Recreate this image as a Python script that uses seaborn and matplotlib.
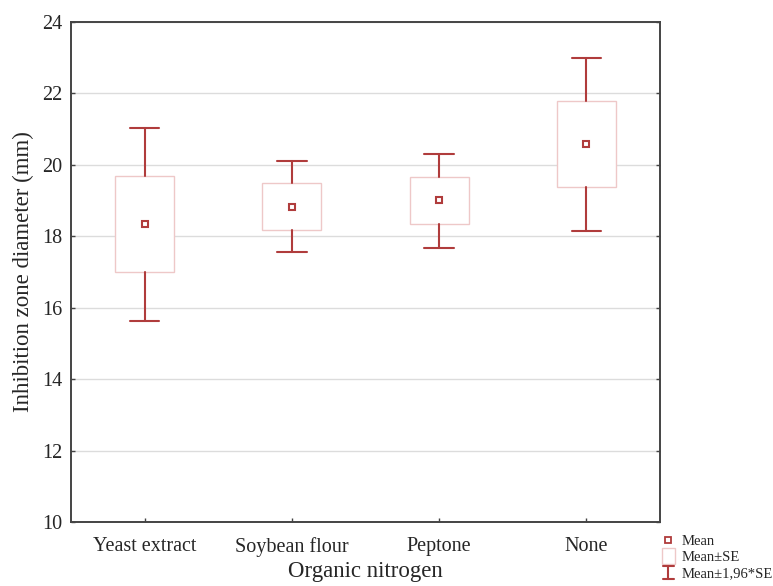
import matplotlib
matplotlib.use("Agg")
import matplotlib.pyplot as plt
import seaborn as sns
import numpy as np
import pandas as pd
from matplotlib.lines import Line2D
from matplotlib.patches import Rectangle
from matplotlib.legend_handler import HandlerBase

categories = ["Yeast extract", "Soybean flour", "Peptone", "None"]
means = [18.34, 18.82, 19.02, 20.58]
se_low = [17.00, 18.18, 18.34, 19.38]
se_high = [19.69, 19.49, 19.66, 21.79]
ci_low = [15.63, 17.56, 17.67, 18.15]
ci_high = [21.03, 20.11, 20.30, 22.99]
yticks = [10, 12, 14, 16, 18, 20, 22, 24]

dark = "#b03c3c"
pink = "#eec8c8"

sns.set_theme(style="white")
plt.rcParams["font.family"] = ["Liberation Serif", "DejaVu Serif"]

fig = plt.figure(figsize=(7.73, 5.86), dpi=100)
ax = fig.add_axes([71/773, 1-522/586, (660-71)/773, 500/586])

df = pd.DataFrame({"cat": categories, "mean": means})
sns.pointplot(data=df, x="cat", y="mean", linestyle="none", marker="s",
              markersize=5, markerfacecolor="white", markeredgecolor=dark,
              markeredgewidth=1.5, color=dark, errorbar=None, ax=ax, zorder=5)

xs = np.arange(len(categories))
lo = np.array(se_low)
hi = np.array(se_high)
ax.bar(xs, hi - lo, bottom=lo, width=0.4, color="white", edgecolor=pink,
       linewidth=1.0, zorder=3)
for x, l, h, cl, ch in zip(xs, lo, hi, ci_low, ci_high):
    ax.plot([x, x], [h, ch], color=dark, lw=1.5, zorder=4)
    ax.plot([x, x], [cl, l], color=dark, lw=1.5, zorder=4)
    ax.plot([x - 0.1, x + 0.1], [ch, ch], color=dark, lw=1.5, zorder=4)
    ax.plot([x - 0.1, x + 0.1], [cl, cl], color=dark, lw=1.5, zorder=4)

ax.set_xlim(-0.5, 3.5)
ax.set_ylim(10, 24)
ax.set_yticks(yticks)
ax.yaxis.grid(True, color="#dcdcdc", lw=1.0, zorder=0)
ax.set_axisbelow(True)
ax.tick_params(axis="both", direction="in", length=3, width=1, color="#444444",
               labelsize=14.5, pad=6)
ax.tick_params(axis="y", right=True, left=True)
ax.tick_params(axis="x", bottom=True, pad=11)
for s in ax.spines.values():
    s.set_color("#444444")
    s.set_linewidth(1.4)
ax.set_xlabel("Organic nitrogen", fontsize=16.5, labelpad=3)
ax.set_ylabel("Inhibition zone diameter (mm)", fontsize=16.5, labelpad=6)


class ErrHandler(HandlerBase):
    def create_artists(self, legend, orig, xd, yd, w, h, fs, trans):
        cx = xd + w / 2
        l1 = Line2D([cx, cx], [yd - 1, yd + h + 1], color=dark, lw=1.5, transform=trans)
        l2 = Line2D([cx - 4, cx + 4], [yd + h + 1, yd + h + 1], color=dark, lw=1.5, transform=trans)
        l3 = Line2D([cx - 4, cx + 4], [yd - 1, yd - 1], color=dark, lw=1.5, transform=trans)
        return [l1, l2, l3]


class BoxHandler(HandlerBase):
    def create_artists(self, legend, orig, xd, yd, w, h, fs, trans):
        cx = xd + w / 2
        r = Rectangle((cx - 5, yd - 2), 10, h + 4, facecolor="white", edgecolor=pink,
                      lw=1.0, transform=trans)
        return [r]


class ErrProxy:
    pass


class BoxProxy:
    pass


h_mean = Line2D([], [], linestyle="none", marker="s", markersize=4,
                markerfacecolor="white", markeredgecolor=dark, markeredgewidth=1.3)
leg = fig.legend([h_mean, BoxProxy(), ErrProxy()], ["Mean", "Mean±SE", "Mean±1,96*SE"],
                 handler_map={ErrProxy: ErrHandler(), BoxProxy: BoxHandler()},
                 loc="lower left", bbox_to_anchor=(651/773, -0.008), frameon=False,
                 fontsize=10.5, handlelength=1.0, handletextpad=0.4, labelspacing=0.2,
                 borderpad=0.2)

fig.savefig("out.png", dpi=100)
